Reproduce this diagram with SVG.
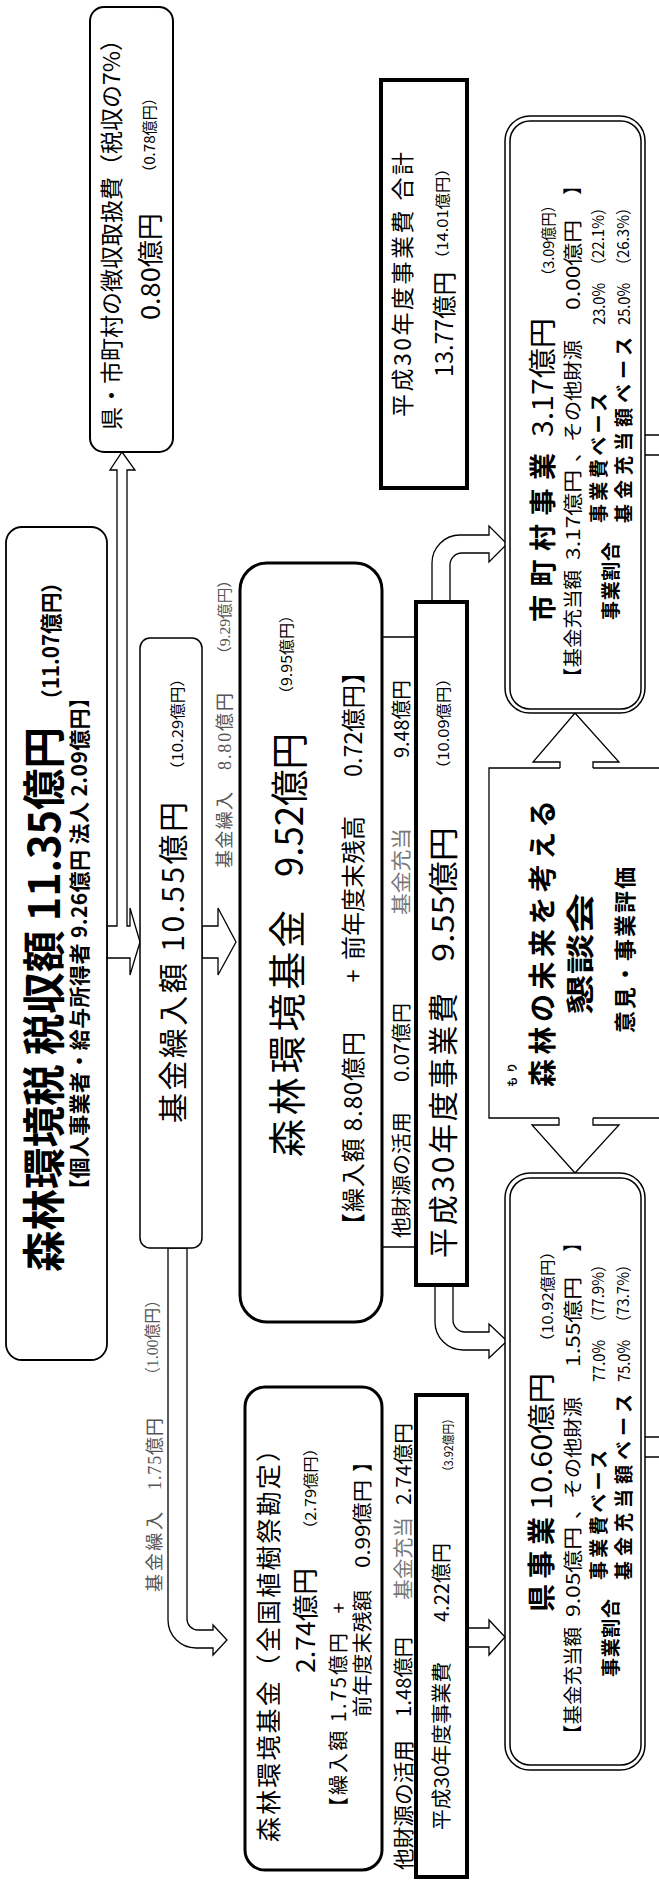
<svg xmlns="http://www.w3.org/2000/svg" width="659" height="1887" viewBox="0 0 659 1887">
<style>
.t{font-family:"Noto Sans CJK JP","Noto Sans",sans-serif;dominant-baseline:central;fill:#000}
.b{font-weight:bold}
.g{font-family:"Liberation Serif","Noto Sans CJK JP",serif;fill:#555}
.gs{fill:#777}
.box{fill:#fff;stroke:#000}
.ln{fill:none;stroke:#000;stroke-width:1.3}
.ar{fill:#fff;stroke:#000;stroke-width:1.3;stroke-linejoin:miter}
</style>
<rect width="659" height="1887" fill="#fff"/>

<g id="connectors">
  <path class="ar" d="M107,926 H117 V470 H110 L122,452 L135,470 H127 V926 H130 V908 L140,942 L130,975 V958 H107 Z"/>
  <path class="ar" d="M202,926 H218 V908 L236,942 L218,975 V958 H202 Z"/>
  <path class="ar" d="M168,1248 V1620 A28,28 0 0 0 196,1648 H213 V1655 L227,1640 L213,1625 V1630 H198 A11,11 0 0 1 187,1619 V1248 Z"/>
  <path class="ar" d="M432,602 V563 A28,28 0 0 1 460,535 H489 V526 L507,544 L489,562 V553 H462 A12,12 0 0 0 450,565 V602 Z"/>
  <path class="ar" d="M435,1285 V1322 A28,28 0 0 0 463,1350 H489 V1358 L507,1341 L489,1324 V1332 H465 A12,12 0 0 1 453,1320 V1285 Z"/>
  <path class="ar" d="M467,1628 H489 V1620 L505,1637 L489,1655 V1647 H467 Z"/>
  <path class="ar" d="M560,768 V762 H533 L575,713 L619,762 H593 V768"/>
  <path class="ar" d="M559,1118 V1125 H532 L575,1173 L619,1125 H593 V1118"/>
  <path class="ln" d="M645,435 H660 M645,455 H660 M645,1437 H660 M645,1457 H660"/>
  <path class="ln" d="M382,637 H416 M382,1247 H416"/>
</g>

<g id="n-collection-fee">
  <rect class="box" x="90" y="7" width="83" height="445" rx="14" stroke-width="2"/>
  <text class="t" font-size="23" transform="translate(110,430) rotate(-90)" textLength="402" lengthAdjust="spacingAndGlyphs">県・市町村の徴収取扱費（税収の7%）</text>
  <text class="t" font-size="26" transform="translate(148,320) rotate(-90)" textLength="107" lengthAdjust="spacingAndGlyphs">0.80億円</text>
  <text class="t" font-size="15" transform="translate(148,180) rotate(-90)" textLength="90" lengthAdjust="spacingAndGlyphs">（0.78億円）</text>
</g>

<g id="n-tax-revenue">
  <rect class="box" x="6" y="527" width="101" height="833" rx="16" stroke-width="1.8"/>
  <text class="t b" font-size="43" transform="translate(41,1272) rotate(-90)" textLength="545" lengthAdjust="spacingAndGlyphs">森林環境税 税収額 11.35億円</text>
  <text class="t b" font-size="22" transform="translate(49,710) rotate(-90)" textLength="138" lengthAdjust="spacingAndGlyphs">（11.07億円）</text>
  <text class="t b" font-size="21" transform="translate(78,1200) rotate(-90)" textLength="513" lengthAdjust="spacing">【個人事業者・給与所得者 9.26億円  法人 2.09億円】</text>
</g>

<g id="n-fund-transfer">
  <rect class="box" x="140" y="638" width="62" height="610" rx="10" stroke-width="1.5"/>
  <text class="t" font-size="30" transform="translate(171,1123) rotate(-90)" textLength="321" lengthAdjust="spacing">基金繰入額 10.55億円</text>
  <text class="t" font-size="15" transform="translate(176,778) rotate(-90)" textLength="108" lengthAdjust="spacingAndGlyphs">（10.29億円）</text>
</g>

<g id="n-label-transfer-main">
  <text class="t g" font-size="18" transform="translate(225,868) rotate(-90)" textLength="76" lengthAdjust="spacing">基金繰入</text>
  <text class="t g" font-size="18" transform="translate(225,770) rotate(-90)" textLength="77" lengthAdjust="spacing">8.80億円</text>
  <text class="t g" font-size="15" transform="translate(225,662) rotate(-90)" textLength="90" lengthAdjust="spacingAndGlyphs">（9.29億円）</text>
</g>

<g id="n-forest-fund">
  <rect class="box" x="240" y="563" width="142" height="759" rx="27" stroke-width="3"/>
  <text class="t" font-size="38" transform="translate(284,1157) rotate(-90)" textLength="247" lengthAdjust="spacing">森林環境基金</text>
  <text class="t" font-size="38" transform="translate(286,877) rotate(-90)" textLength="144" lengthAdjust="spacingAndGlyphs">9.52億円</text>
  <text class="t" font-size="15" transform="translate(285,702) rotate(-90)" textLength="95" lengthAdjust="spacingAndGlyphs">（9.95億円）</text>
  <text class="t" font-size="24" transform="translate(351,1237) rotate(-90)" textLength="205" lengthAdjust="spacing">【繰入額 8.80億円</text>
  <text class="t" font-size="24" text-anchor="middle" transform="translate(351,976) rotate(-90)">+</text>
  <text class="t" font-size="24" transform="translate(351,960) rotate(-90)" textLength="144" lengthAdjust="spacingAndGlyphs">前年度末残高</text>
  <text class="t" font-size="24" transform="translate(351,777) rotate(-90)" textLength="92" lengthAdjust="spacingAndGlyphs">0.72億円</text>
  <text class="t" font-size="24" transform="translate(351,684) rotate(-90)">】</text>
  <text class="t" font-size="20" transform="translate(400,1238) rotate(-90)" textLength="126" lengthAdjust="spacingAndGlyphs">他財源の活用</text>
  <text class="t" font-size="20" transform="translate(400,1082) rotate(-90)" textLength="79" lengthAdjust="spacingAndGlyphs">0.07億円</text>
  <text class="t gs" font-size="20" transform="translate(400,915) rotate(-90)" textLength="87" lengthAdjust="spacingAndGlyphs">基金充当</text>
  <text class="t" font-size="20" transform="translate(400,758) rotate(-90)" textLength="78" lengthAdjust="spacingAndGlyphs">9.48億円</text>
</g>

<g id="n-cost-main">
  <rect class="box" x="416" y="602" width="51" height="683" stroke-width="4"/>
  <text class="t" font-size="30" transform="translate(441,1258) rotate(-90)" textLength="265" lengthAdjust="spacing">平成30年度事業費</text>
  <text class="t" font-size="30" transform="translate(441,962) rotate(-90)" textLength="135" lengthAdjust="spacingAndGlyphs">9.55億円</text>
  <text class="t" font-size="15" transform="translate(442,777) rotate(-90)" textLength="107" lengthAdjust="spacingAndGlyphs">（10.09億円）</text>
</g>

<g id="n-planting-fund">
  <rect class="box" x="245" y="1387" width="137" height="483" rx="20" stroke-width="3"/>
  <text class="t" font-size="25" transform="translate(267,1842) rotate(-90)" textLength="405" lengthAdjust="spacing">森林環境基金（全国植樹祭勘定）</text>
  <text class="t" font-size="26" transform="translate(303,1673) rotate(-90)" textLength="105" lengthAdjust="spacingAndGlyphs">2.74億円</text>
  <text class="t" font-size="15" transform="translate(309,1537) rotate(-90)" textLength="97" lengthAdjust="spacingAndGlyphs">（2.79億円）</text>
  <text class="t" font-size="20" transform="translate(337,1817) rotate(-90)" textLength="184" lengthAdjust="spacing">【繰入額 1.75億円</text>
  <text class="t" font-size="20" text-anchor="middle" transform="translate(337,1608) rotate(-90)">+</text>
  <text class="t" font-size="20" transform="translate(361,1717) rotate(-90)" textLength="127" lengthAdjust="spacingAndGlyphs">前年度末残額</text>
  <text class="t" font-size="20" transform="translate(361,1568) rotate(-90)" textLength="88" lengthAdjust="spacingAndGlyphs">0.99億円</text>
  <text class="t" font-size="20" transform="translate(361,1472) rotate(-90)">】</text>
  <text class="t" font-size="21" transform="translate(402,1870) rotate(-90)" textLength="130" lengthAdjust="spacingAndGlyphs">他財源の活用</text>
  <text class="t" font-size="20" transform="translate(402,1717) rotate(-90)" textLength="80" lengthAdjust="spacingAndGlyphs">1.48億円</text>
  <text class="t gs" font-size="20" transform="translate(402,1600) rotate(-90)" textLength="83" lengthAdjust="spacingAndGlyphs">基金充当</text>
  <text class="t" font-size="20" transform="translate(402,1505) rotate(-90)" textLength="82" lengthAdjust="spacingAndGlyphs">2.74億円</text>
</g>

<g id="n-cost-planting">
  <rect class="box" x="416" y="1395" width="51" height="482" stroke-width="4"/>
  <text class="t" font-size="20" transform="translate(440,1830) rotate(-90)" textLength="168" lengthAdjust="spacingAndGlyphs">平成30年度事業費</text>
  <text class="t" font-size="20" transform="translate(440,1622) rotate(-90)" textLength="79" lengthAdjust="spacingAndGlyphs">4.22億円</text>
  <text class="t" font-size="12" transform="translate(447,1477) rotate(-90)" textLength="64" lengthAdjust="spacingAndGlyphs">（3.92億円）</text>
</g>

<g id="n-label-transfer-planting">
  <text class="t g" font-size="18" transform="translate(155,1592) rotate(-90)" textLength="80" lengthAdjust="spacing">基金繰入</text>
  <text class="t g" font-size="18" transform="translate(155,1490) rotate(-90)" textLength="72" lengthAdjust="spacing">1.75億円</text>
  <text class="t g" font-size="16" transform="translate(152,1383) rotate(-90)" textLength="91" lengthAdjust="spacingAndGlyphs">（1.00億円）</text>
</g>

<g id="n-total">
  <rect class="box" x="381" y="80" width="86" height="408" stroke-width="4"/>
  <text class="t" font-size="23" transform="translate(401,417) rotate(-90)" textLength="265" lengthAdjust="spacing">平成30年度事業費 合計</text>
  <text class="t" font-size="24" transform="translate(442,377) rotate(-90)" textLength="105" lengthAdjust="spacingAndGlyphs">13.77億円</text>
  <text class="t" font-size="15" transform="translate(441,267) rotate(-90)" textLength="107" lengthAdjust="spacingAndGlyphs">（14.01億円）</text>
</g>

<g id="n-municipal">
  <rect class="box" x="505" y="116" width="140" height="597" rx="25" stroke-width="1.5"/>
  <rect class="box" x="510" y="121" width="131" height="588" rx="20" stroke-width="1.5"/>
  <text class="t b" font-size="27" transform="translate(541,622) rotate(-90)" textLength="169" lengthAdjust="spacing">市町村事業</text>
  <text class="t" font-size="28" transform="translate(541,437) rotate(-90)" textLength="119" lengthAdjust="spacingAndGlyphs">3.17億円</text>
  <text class="t" font-size="15" transform="translate(547,283) rotate(-90)" textLength="85" lengthAdjust="spacingAndGlyphs">（3.09億円）</text>
  <text class="t" font-size="19" transform="translate(571,687) rotate(-90)" textLength="117" lengthAdjust="spacingAndGlyphs">【基金充当額</text>
  <text class="t" font-size="19" transform="translate(571,560) rotate(-90)" textLength="90" lengthAdjust="spacingAndGlyphs">3.17億円</text>
  <text class="t" font-size="19" transform="translate(571,462) rotate(-90)" textLength="122" lengthAdjust="spacingAndGlyphs">、その他財源</text>
  <text class="t" font-size="19" transform="translate(571,310) rotate(-90)" textLength="90" lengthAdjust="spacingAndGlyphs">0.00億円</text>
  <text class="t" font-size="19" transform="translate(571,195) rotate(-90)">】</text>
  <text class="t b" font-size="19" transform="translate(597,523) rotate(-90)" textLength="130" lengthAdjust="spacing">事業費ベース</text>
  <text class="t" font-size="17" transform="translate(597,325) rotate(-90)" textLength="42" lengthAdjust="spacingAndGlyphs">23.0%</text>
  <text class="t" font-size="16" transform="translate(597,273) rotate(-90)" textLength="73" lengthAdjust="spacingAndGlyphs">（22.1%）</text>
  <text class="t b" font-size="19" transform="translate(609,620) rotate(-90)" textLength="78" lengthAdjust="spacing">事業割合</text>
  <text class="t b" font-size="19" transform="translate(622,523) rotate(-90)" textLength="186" lengthAdjust="spacing">基金充当額ベース</text>
  <text class="t" font-size="17" transform="translate(622,325) rotate(-90)" textLength="42" lengthAdjust="spacingAndGlyphs">25.0%</text>
  <text class="t" font-size="16" transform="translate(622,273) rotate(-90)" textLength="73" lengthAdjust="spacingAndGlyphs">（26.3%）</text>
</g>

<g id="n-prefecture">
  <rect class="box" x="505" y="1173" width="140" height="597" rx="25" stroke-width="1.5"/>
  <rect class="box" x="510" y="1178" width="131" height="587" rx="20" stroke-width="1.5"/>
  <text class="t b" font-size="28" transform="translate(540,1612) rotate(-90)" textLength="95" lengthAdjust="spacing">県事業</text>
  <text class="t" font-size="28" transform="translate(540,1510) rotate(-90)" textLength="137" lengthAdjust="spacingAndGlyphs">10.60億円</text>
  <text class="t" font-size="15" transform="translate(546,1350) rotate(-90)" textLength="107" lengthAdjust="spacingAndGlyphs">（10.92億円）</text>
  <text class="t" font-size="19" transform="translate(571,1744) rotate(-90)" textLength="117" lengthAdjust="spacingAndGlyphs">【基金充当額</text>
  <text class="t" font-size="19" transform="translate(571,1617) rotate(-90)" textLength="90" lengthAdjust="spacingAndGlyphs">9.05億円</text>
  <text class="t" font-size="19" transform="translate(571,1519) rotate(-90)" textLength="122" lengthAdjust="spacingAndGlyphs">、その他財源</text>
  <text class="t" font-size="19" transform="translate(571,1367) rotate(-90)" textLength="90" lengthAdjust="spacingAndGlyphs">1.55億円</text>
  <text class="t" font-size="19" transform="translate(571,1252) rotate(-90)">】</text>
  <text class="t b" font-size="19" transform="translate(597,1580) rotate(-90)" textLength="130" lengthAdjust="spacing">事業費ベース</text>
  <text class="t" font-size="17" transform="translate(597,1382) rotate(-90)" textLength="42" lengthAdjust="spacingAndGlyphs">77.0%</text>
  <text class="t" font-size="16" transform="translate(597,1330) rotate(-90)" textLength="73" lengthAdjust="spacingAndGlyphs">（77.9%）</text>
  <text class="t b" font-size="19" transform="translate(609,1677) rotate(-90)" textLength="78" lengthAdjust="spacing">事業割合</text>
  <text class="t b" font-size="19" transform="translate(622,1580) rotate(-90)" textLength="186" lengthAdjust="spacing">基金充当額ベース</text>
  <text class="t" font-size="17" transform="translate(622,1382) rotate(-90)" textLength="42" lengthAdjust="spacingAndGlyphs">75.0%</text>
  <text class="t" font-size="16" transform="translate(622,1330) rotate(-90)" textLength="73" lengthAdjust="spacingAndGlyphs">（73.7%）</text>
</g>

<g id="n-council">
  <path class="ln" d="M560,768 H489 V1118 H559 M593,1118 H660 M593,768 H660"/>
  <text class="t b" font-size="10" transform="translate(511,1087) rotate(-90)" textLength="24" lengthAdjust="spacing">もり</text>
  <text class="t b" font-size="28" transform="translate(541,1087) rotate(-90)" textLength="287" lengthAdjust="spacing">森林の未来を考える</text>
  <text class="t b" font-size="28" transform="translate(579,1015) rotate(-90)" textLength="122" lengthAdjust="spacingAndGlyphs">懇談会</text>
  <text class="t b" font-size="22" transform="translate(623,1033) rotate(-90)" textLength="166" lengthAdjust="spacing">意見・事業評価</text>
</g>
</svg>
